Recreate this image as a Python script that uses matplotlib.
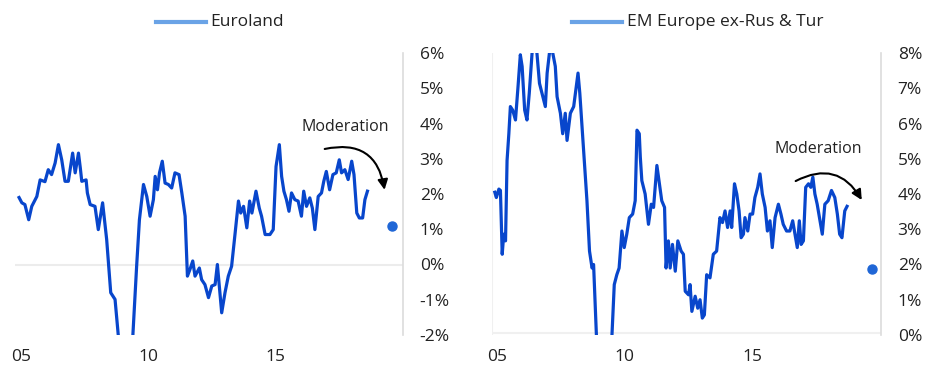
import matplotlib
matplotlib.use("Agg")
import matplotlib.pyplot as plt

plt.rcParams['font.family'] = ['Open Sans', 'DejaVu Sans']

# Euroland (% y/y)
eu_x = [2004.92, 2005.03, 2005.15, 2005.3, 2005.42, 2005.62, 2005.75, 2005.94, 2006.07, 2006.2,
        2006.34, 2006.47, 2006.6, 2006.73, 2006.86, 2007.03, 2007.13, 2007.26, 2007.33, 2007.39,
        2007.56, 2007.61, 2007.72, 2007.91, 2008.04, 2008.21, 2008.37, 2008.53, 2008.7, 2008.83,
        2008.95, 2009.1, 2009.25, 2009.4, 2009.55, 2009.66, 2009.82, 2009.95, 2010.08, 2010.21,
        2010.28, 2010.37, 2010.45, 2010.56, 2010.67, 2010.8, 2010.93, 2011.06, 2011.22, 2011.33,
        2011.46, 2011.55, 2011.65, 2011.76, 2011.85, 2012.02, 2012.11, 2012.24, 2012.38, 2012.51,
        2012.64, 2012.73, 2012.9, 2013.03, 2013.16, 2013.29, 2013.43, 2013.56, 2013.65, 2013.76,
        2013.89, 2014.0, 2014.09, 2014.25, 2014.38, 2014.47, 2014.61, 2014.8, 2014.93, 2015.04,
        2015.17, 2015.26, 2015.35, 2015.45, 2015.55, 2015.65, 2015.78, 2015.91, 2016.04, 2016.13,
        2016.24, 2016.37, 2016.47, 2016.57, 2016.7, 2016.83, 2016.92, 2017.02, 2017.15, 2017.28,
        2017.41, 2017.53, 2017.62, 2017.75, 2017.88, 2018.02, 2018.11, 2018.22, 2018.32, 2018.45,
        2018.54, 2018.64]
eu_y = [1.9, 1.75, 1.7, 1.27, 1.65, 1.93, 2.4, 2.35, 2.69, 2.55,
        2.88, 3.4, 2.97, 2.36, 2.36, 3.16, 2.6, 3.16, 2.75, 2.36,
        2.4, 2.03, 1.7, 1.65, 0.99, 1.75, 0.71, -0.8, -0.99, -2.03,
        -2.6, -3.0, -2.7, -2.03, -0.05, 1.27, 2.27, 1.93, 1.37, 1.84,
        2.5, 2.12, 2.6, 2.93, 2.31, 2.27, 2.17, 2.6, 2.55, 2.03,
        1.37, -0.33, -0.14, 0.1, -0.33, -0.1, -0.43, -0.57, -0.94, -0.61,
        -0.57, 0.0, -1.37, -0.8, -0.33, -0.05, 0.9, 1.8, 1.46, 1.65,
        1.04, 1.8, 1.46, 2.08, 1.6, 1.37, 0.85, 0.85, 0.99, 2.78,
        3.4, 2.5, 2.08, 1.84, 1.51, 2.03, 1.84, 1.8, 1.37, 2.08,
        1.65, 1.89, 1.6, 0.99, 1.93, 2.03, 2.36, 2.64, 2.12, 2.55,
        2.6, 2.97, 2.6, 2.69, 2.41, 2.93, 2.55, 1.46, 1.32, 1.32,
        1.84, 2.08]
eu_dot = (2019.61, 1.1)

# EM Europe ex-Rus & Tur
em_x = [2004.91, 2004.97, 2005.07, 2005.13, 2005.2, 2005.26, 2005.33, 2005.39, 2005.46, 2005.52,
        2005.61, 2005.72, 2005.82, 2005.91, 2005.98, 2006.08, 2006.17, 2006.26, 2006.37, 2006.45,
        2006.56, 2006.66, 2006.79, 2006.89, 2006.96, 2007.05, 2007.12, 2007.18, 2007.28, 2007.35,
        2007.48, 2007.57, 2007.67, 2007.74, 2007.87, 2008.0, 2008.17, 2008.24, 2008.39, 2008.52,
        2008.62, 2008.72, 2008.78, 2008.89, 2009.0, 2009.2, 2009.4, 2009.5, 2009.59, 2009.69,
        2009.78, 2009.89, 2009.98, 2010.08, 2010.18, 2010.31, 2010.41, 2010.48, 2010.57, 2010.61,
        2010.67, 2010.8, 2010.93, 2011.04, 2011.13, 2011.26, 2011.36, 2011.45, 2011.56, 2011.62,
        2011.71, 2011.78, 2011.87, 2011.98, 2012.08, 2012.21, 2012.3, 2012.37, 2012.5, 2012.56,
        2012.63, 2012.76, 2012.86, 2012.95, 2013.04, 2013.12, 2013.21, 2013.34, 2013.47, 2013.6,
        2013.73, 2013.83, 2013.93, 2014.03, 2014.13, 2014.19, 2014.3, 2014.39, 2014.48, 2014.56,
        2014.65, 2014.71, 2014.82, 2014.91, 2015.01, 2015.1, 2015.21, 2015.3, 2015.39, 2015.5,
        2015.59, 2015.69, 2015.78, 2015.89, 2016.02, 2016.12, 2016.21, 2016.34, 2016.47, 2016.58,
        2016.67, 2016.76, 2016.84, 2016.91, 2017.0, 2017.09, 2017.2, 2017.29, 2017.37, 2017.45,
        2017.54, 2017.65, 2017.74, 2017.84, 2017.97, 2018.1, 2018.23, 2018.33, 2018.42, 2018.51,
        2018.62, 2018.71]
em_y = [4.05, 3.9, 4.14, 4.1, 2.29, 2.86, 2.67, 4.95, 5.71, 6.48,
        6.38, 6.1, 7.05, 7.95, 7.62, 6.38, 6.1, 6.86, 8.0, 8.4,
        8.0, 7.14, 6.76, 6.48, 7.43, 8.0, 8.3, 8.0, 7.62, 6.76,
        6.29, 5.71, 6.29, 5.52, 6.29, 6.48, 7.43, 6.86, 5.24, 3.81,
        2.38, 1.9, 2.0, 0.0, -0.6, -0.9, -0.5, 0.0, 1.43, 1.71,
        1.9, 2.95, 2.48, 2.86, 3.33, 3.43, 3.81, 5.81, 5.71, 5.05,
        4.38, 4.0, 3.14, 3.71, 3.62, 4.81, 4.29, 3.81, 3.62, 1.9,
        2.67, 1.9, 2.57, 1.81, 2.67, 2.38, 2.29, 1.24, 1.14, 1.43,
        0.67, 1.1, 0.76, 1.0, 0.48, 0.57, 1.71, 1.62, 2.29, 2.38,
        3.33, 3.19, 3.52, 3.05, 3.52, 3.05, 4.29, 4.0, 3.52, 2.76,
        2.86, 3.33, 2.95, 3.43, 3.43, 3.9, 4.19, 4.57, 4.0, 3.62,
        2.95, 3.24, 2.48, 3.33, 3.71, 3.43, 3.14, 2.95, 2.95, 3.24,
        2.86, 2.48, 3.24, 2.57, 2.67, 4.19, 4.29, 4.19, 4.48, 4.0,
        3.71, 3.24, 2.86, 3.71, 3.81, 4.1, 3.9, 3.43, 2.86, 2.76,
        3.52, 3.65]
em_dot = (2019.69, 1.86)

xticks = [2005, 2010, 2015]
xlabels = ["05", "10", "15"]

line_col = "#0846cc"
leg_col = "#6aa3e6"
txt_col = "#222222"

fig = plt.figure(figsize=(9.31, 3.72), dpi=100)
ax1 = fig.add_axes([15 / 931, 37 / 372, 388 / 931, 282 / 372])
ax2 = fig.add_axes([492 / 931, 37 / 372, 389 / 931, 282 / 372])


def style(ax, ylo, yhi, xlo):
    ax.set_xlim(xlo, 2020.04)
    ax.set_ylim(ylo, yhi)
    for s in ["top", "left", "bottom"]:
        ax.spines[s].set_visible(False)
    ax.spines["right"].set_color("#dcdcdc")
    ax.spines["right"].set_linewidth(1.2)
    ax.yaxis.tick_right()
    ax.set_yticks(range(ylo, yhi + 1))
    ax.set_yticklabels(["%d%%" % v for v in range(ylo, yhi + 1)], fontsize=12.5, color=txt_col)
    ax.tick_params(axis="y", length=0, pad=12)
    ax.set_xticks(xticks)
    ax.set_xticklabels(xlabels, fontsize=12.5, color=txt_col)
    ax.tick_params(axis="x", length=0, pad=10)


style(ax1, -2, 6, 2004.76)
style(ax2, 0, 8, 2004.8)

ax1.axhline(0, color="#ececec", lw=1.5, zorder=1)
ax2.axvline(2004.8, color="#f0f0f0", lw=1.5, zorder=1)
ax2.axhline(0.05, color="#f0f0f0", lw=1.5, zorder=1)

ax1.plot(eu_x, eu_y, color=line_col, lw=2.3, zorder=3)
ax1.plot(*eu_dot, "o", color="#1f66d6", ms=6.5, zorder=4)
ax2.plot(em_x, em_y, color=line_col, lw=2.3, zorder=3)
ax2.plot(*em_dot, "o", color="#1f66d6", ms=6.5, zorder=4)

# annotations
ax1.text(2017.76, 3.91, "Moderation", fontsize=11.5, ha="center", va="center", color=txt_col)
ax1.annotate("", xy=(2019.33, 2.04), xytext=(2016.85, 3.26),
             arrowprops=dict(arrowstyle="-|>", color="black", lw=1.5,
                             connectionstyle="arc3,rad=-0.55", mutation_scale=15))
ax2.text(2017.58, 5.27, "Moderation", fontsize=11.5, ha="center", va="center", color=txt_col)
ax2.annotate("", xy=(2019.34, 3.76), xytext=(2016.6, 4.33),
             arrowprops=dict(arrowstyle="-|>", color="black", lw=1.5,
                             connectionstyle="arc3,rad=-0.5", mutation_scale=15))

# legends at the top
fig.add_artist(plt.Line2D([156 / 931, 206 / 931], [1 - 22 / 372] * 2, color=leg_col, lw=3))
fig.text(210 / 931, 1 - 22 / 372, "Euroland", fontsize=12.5, va="center", color=txt_col)
fig.add_artist(plt.Line2D([572 / 931, 622 / 931], [1 - 22 / 372] * 2, color=leg_col, lw=3))
fig.text(627 / 931, 1 - 22 / 372, "EM Europe ex-Rus & Tur", fontsize=12.5, va="center", color=txt_col)

fig.savefig("out.png", dpi=100)
